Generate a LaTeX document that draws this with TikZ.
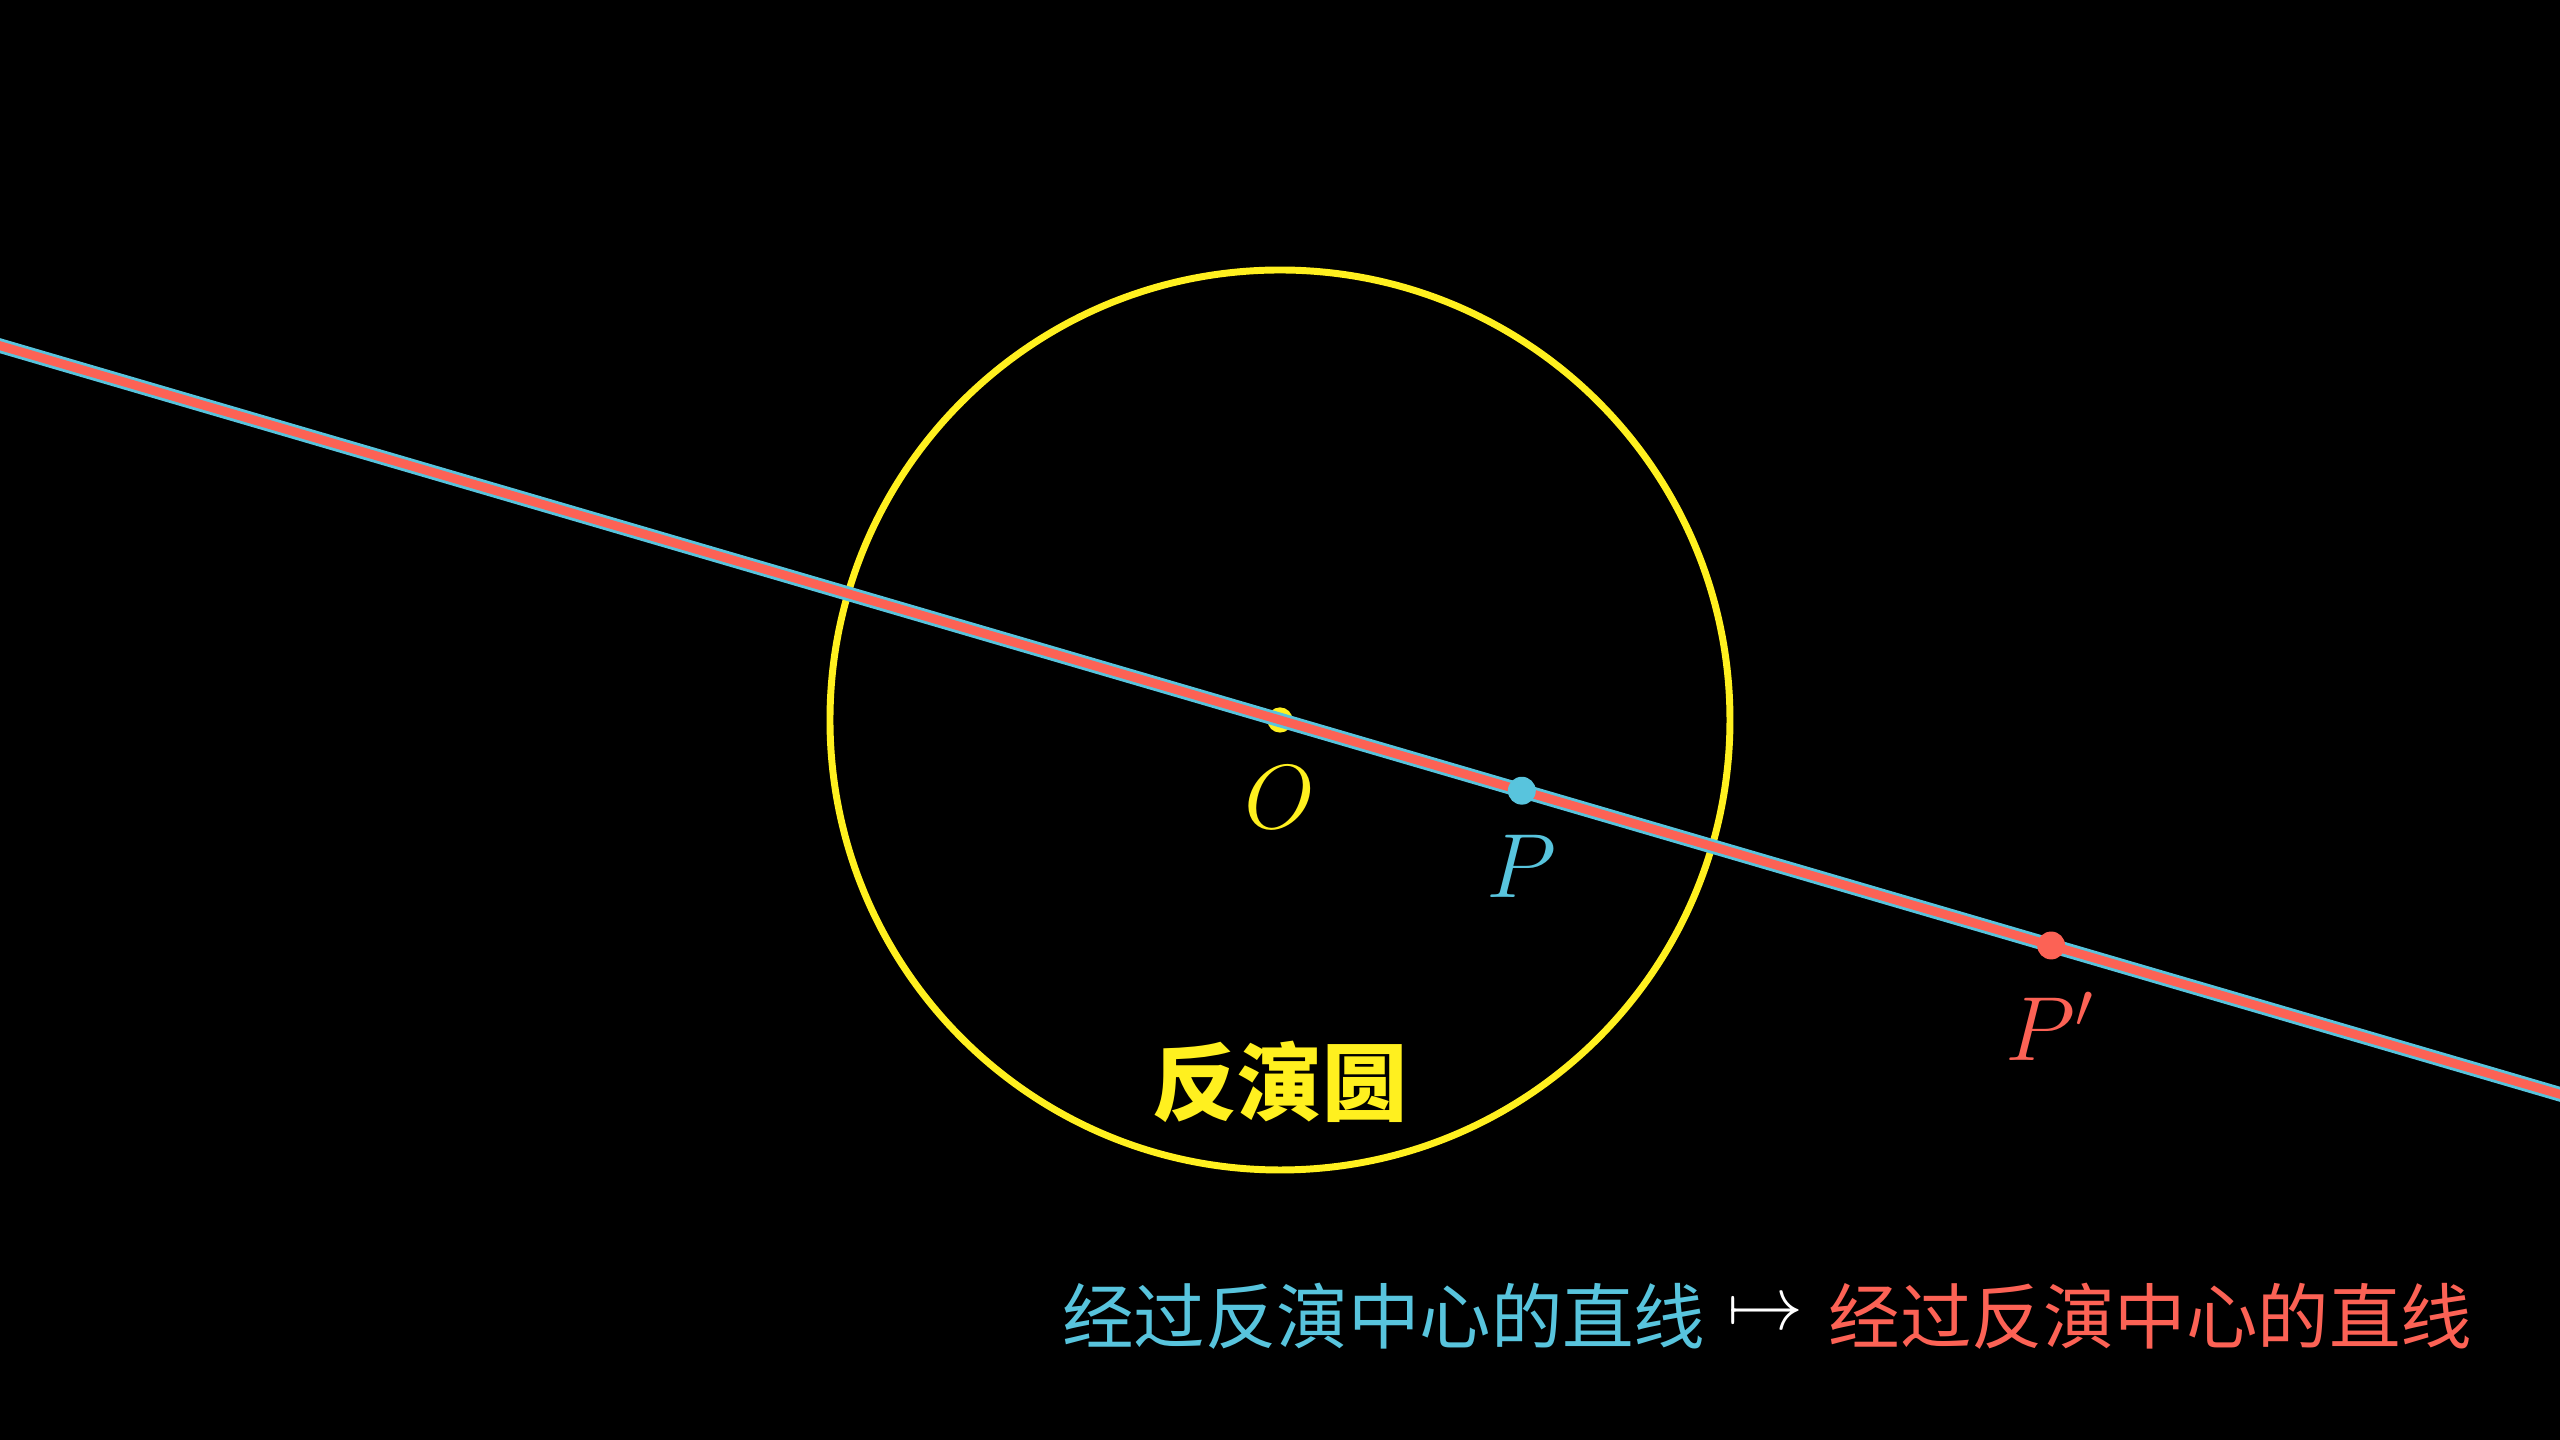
\documentclass[tikz,border=0pt]{standalone}
\usepackage{fontspec}
\newfontfamily\cjk{Noto Sans CJK SC}
\usetikzlibrary{positioning}
\definecolor{invyellow}{HTML}{FFF01F}
\definecolor{linered}{HTML}{FC6255}
\definecolor{lineblue}{HTML}{58C4DD}

\begin{document}
\begin{tikzpicture}[
		every node/.style={inner sep=0pt},
		dot/.style={circle, fill, inner sep=0pt, minimum size=0.155cm},
		ptlabel/.style={font=\fontsize{14.4}{17}\selectfont},
		note/.style={font=\cjk\fontsize{11.3}{14}\selectfont}
	]
		% 背景
		\fill[black] (-7.1111,-4) rectangle (7.1111,4);
		\useasboundingbox (-7.1111,-4) rectangle (7.1111,4);
		\clip (-7.1111,-4) rectangle (7.1111,4);

		% 反演圆
		\coordinate (O) at (0,0);
		\draw[invyellow, line width=1.1pt] (O) circle (2.5);
		\node[dot, invyellow, minimum size=0.14cm] (Odot) at (O) {};

		% 经过反演中心的直线
		\coordinate (L) at (163.7:9);
		\coordinate (R) at (-16.3:9);
		\draw[lineblue, line width=2.3pt] (L) -- (R);
		\draw[linered, line width=1.4pt] (L) -- (R);

		\node[dot, lineblue] (P) at (-16.3:1.4) {};
		\node[dot, linered] (Pp) at (-16.3:4.464) {};
		\node[ptlabel, invyellow] (Olab) at ([yshift=-0.43cm]O) {$O$};
		\node[ptlabel, lineblue] (Plab) at ([yshift=-0.42cm]P) {$P$};
		\node[ptlabel, linered] (Pplab) at ([yshift=-0.45cm]Pp) {$P'$};
		\node[invyellow, font=\cjk\bfseries\fontsize{13.4}{16}\selectfont] (title) at (0,-2.01) {反演圆};

		% 底部说明
		\node[note, linered, anchor=east] (rhs) at (6.63,-3.31) {经过反演中心的直线};
		\node[white, font=\fontsize{12}{14}\selectfont, left=0.125cm of rhs] (mapsto) {$\mapsto$};
		\node[note, lineblue, left=0.11cm of mapsto] (lhs) {经过反演中心的直线};
	\end{tikzpicture}
\end{document}
